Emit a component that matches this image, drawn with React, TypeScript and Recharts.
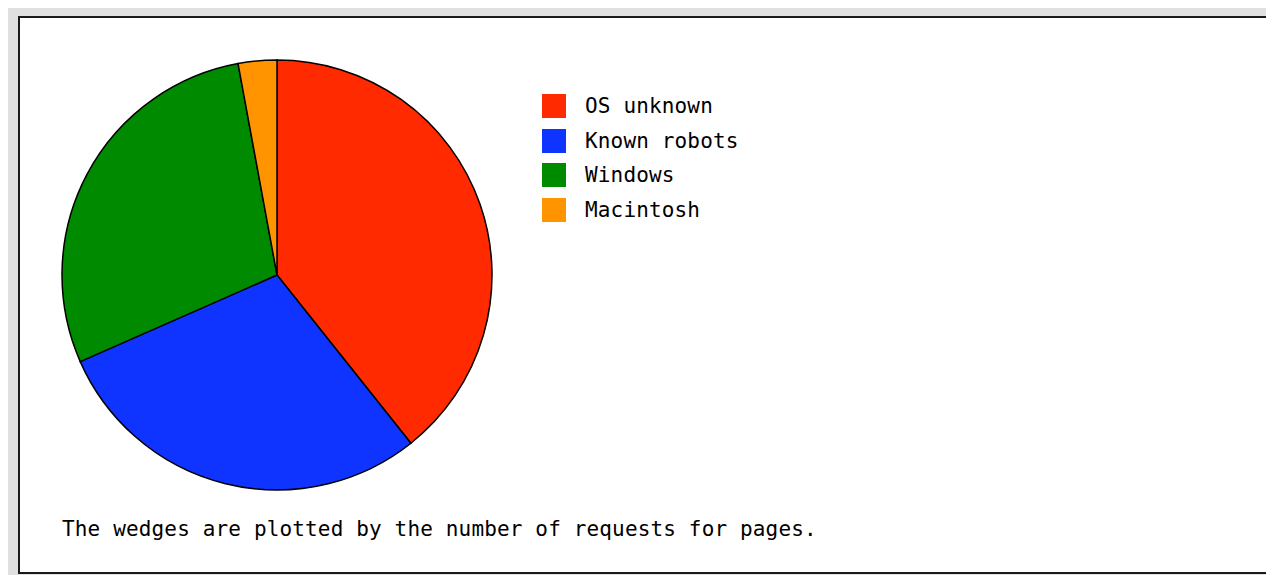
import React from 'react';
import { PieChart, Pie, Cell, Legend } from 'recharts';

const osNames = ['OS unknown', 'Known robots', 'Windows', 'Macintosh'];
const pageRequests = [393, 291, 287, 29];
const wedgeColors = ['#ff2a00', '#1034ff', '#008a00', '#ff9400'];

const caption = 'The wedges are plotted by the number of requests for pages.';

const data = osNames.map((name, i) => ({ name, value: pageRequests[i] }));

const monoFont = '"DejaVu Sans Mono", "Liberation Mono", monospace';

// legend keeps the wedge order instead of recharts' alphabetical sort
const LegendBox = () => (
  <div style={{ fontFamily: monoFont, fontSize: 21, color: '#000', letterSpacing: 0.15 }}>
    {osNames.map((name, i) => (
      <div key={name} style={{ display: 'flex', alignItems: 'center', height: 34.5 }}>
        <span
          style={{
            display: 'inline-block',
            width: 24,
            height: 24,
            background: wedgeColors[i],
            marginRight: 19,
          }}
        />
        <span>{name}</span>
      </div>
    ))}
  </div>
);

export default function App() {
  return (
    <div
      style={{
        position: 'relative',
        width: 1266,
        height: 567,
        background: '#e0e0e0',
        overflow: 'hidden',
      }}
    >
      <div
        style={{
          position: 'absolute',
          left: 10,
          top: 8,
          width: 1260,
          height: 554,
          background: '#fff',
          borderTop: '2px solid #1a1a1a',
          borderLeft: '2px solid #1a1a1a',
          borderBottom: '2px solid #1a1a1a',
        }}
      />
      <div style={{ position: 'absolute', left: 0, top: 0 }}>
        <PieChart width={1266} height={567}>
          <Pie
            data={data}
            dataKey="value"
            nameKey="name"
            cx={264}
            cy={262}
            outerRadius={215}
            startAngle={90}
            endAngle={-270}
            stroke="#000"
            strokeWidth={1.5}
            isAnimationActive={false}
          >
            {data.map((d, i) => (
              <Cell key={d.name} fill={wedgeColors[i]} />
            ))}
          </Pie>
          <Legend
            layout="vertical"
            content={<LegendBox />}
            wrapperStyle={{ position: 'absolute', left: 534, top: 81, width: 300 }}
          />
        </PieChart>
      </div>
      <div
        style={{
          position: 'absolute',
          left: 54,
          top: 509,
          fontFamily: monoFont,
          fontSize: 21,
          letterSpacing: 0.15,
          color: '#000',
          whiteSpace: 'nowrap',
        }}
      >
        {caption}
      </div>
    </div>
  );
}
